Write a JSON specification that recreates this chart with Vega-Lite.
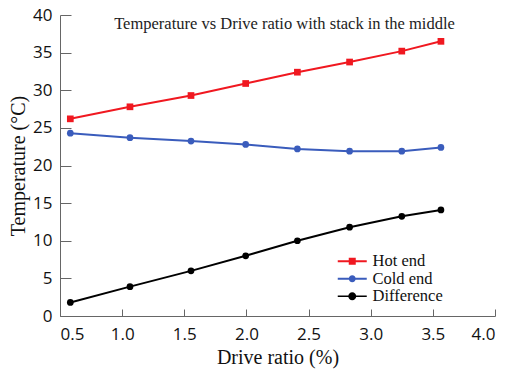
{
  "$schema": "https://vega.github.io/schema/vega-lite/v6.json",
  "autosize": "none",
  "width": 435,
  "height": 301,
  "padding": {"left": 60, "top": 15, "right": 13, "bottom": 56},
  "background": "white",
  "title": {
    "text": "Temperature vs Drive ratio with stack in the middle",
    "font": "Liberation Serif",
    "fontSize": 16.5,
    "fontWeight": "normal",
    "color": "#222",
    "anchor": "middle",
    "frame": "group",
    "baseline": "alphabetic",
    "offset": 0,
    "dy": 39,
    "dx": 7
  },
  "config": {
    "view": {"stroke": null},
    "axis": {
      "grid": false,
      "domainColor": "#666",
      "tickColor": "#666",
      "labelFont": "Open Sans",
      "labelFontSize": 17,
      "labelColor": "#111",
      "titleFont": "Liberation Serif",
      "titleFontSize": 20,
      "titleFontWeight": "normal",
      "titleColor": "#111"
    }
  },
  "data": {
    "values": [
      {"x": 0.583, "series": "Hot end", "t": 26.2},
      {"x": 1.063, "series": "Hot end", "t": 27.8},
      {"x": 1.554, "series": "Hot end", "t": 29.3},
      {"x": 1.994, "series": "Hot end", "t": 30.9},
      {"x": 2.41, "series": "Hot end", "t": 32.4},
      {"x": 2.83, "series": "Hot end", "t": 33.75},
      {"x": 3.25, "series": "Hot end", "t": 35.2},
      {"x": 3.565, "series": "Hot end", "t": 36.5},
      {"x": 0.583, "series": "Cold end", "t": 24.3},
      {"x": 1.063, "series": "Cold end", "t": 23.7},
      {"x": 1.554, "series": "Cold end", "t": 23.25},
      {"x": 1.994, "series": "Cold end", "t": 22.8},
      {"x": 2.41, "series": "Cold end", "t": 22.2},
      {"x": 2.83, "series": "Cold end", "t": 21.9},
      {"x": 3.25, "series": "Cold end", "t": 21.9},
      {"x": 3.565, "series": "Cold end", "t": 22.4},
      {"x": 0.583, "series": "Difference", "t": 1.8},
      {"x": 1.063, "series": "Difference", "t": 3.9},
      {"x": 1.554, "series": "Difference", "t": 6.0},
      {"x": 1.994, "series": "Difference", "t": 8.0},
      {"x": 2.41, "series": "Difference", "t": 10.0},
      {"x": 2.83, "series": "Difference", "t": 11.8},
      {"x": 3.25, "series": "Difference", "t": 13.25},
      {"x": 3.565, "series": "Difference", "t": 14.1}
    ]
  },
  "encoding": {
    "x": {
      "field": "x", "type": "quantitative",
      "scale": {"domain": [0.5, 4.0], "nice": false, "zero": false},
      "axis": {
        "title": "Drive ratio (%)",
        "values": [0.5, 1.0, 1.5, 2.0, 2.5, 3.0, 3.5, 4.0],
        "format": ".1f",
        "tickSize": -7,
        "labelPadding": 17,
        "titlePadding": 5
      }
    },
    "y": {
      "field": "t", "type": "quantitative",
      "scale": {"domain": [0, 40], "nice": false},
      "axis": {
        "title": "Temperature (°C)",
        "values": [0, 5, 10, 15, 20, 25, 30, 35, 40],
        "tickSize": -11,
        "labelPadding": 19,
        "titlePadding": 4
      }
    }
  },
  "resolve": {
    "scale": {"shape": "independent", "size": "independent"},
    "legend": {"color": "independent", "shape": "independent"}
  },
  "layer": [
    {
      "mark": {"type": "line"},
      "encoding": {
        "color": {
          "field": "series", "type": "nominal",
          "scale": {"domain": ["Hot end", "Cold end", "Difference"], "range": ["#f01820", "#3a5cbc", "#000000"]},
          "legend": null
        },
        "strokeWidth": {
          "field": "series", "type": "nominal",
          "scale": {"domain": ["Hot end", "Cold end", "Difference"], "range": [2, 2, 1.2]},
          "legend": null
        }
      }
    },
    {
      "mark": {"type": "point", "filled": true, "opacity": 1},
      "encoding": {
        "color": {
          "field": "series", "type": "nominal",
          "scale": {"domain": ["Hot end", "Cold end", "Difference"], "range": ["#f01820", "#3a5cbc", "#000000"]},
          "legend": null
        },
        "shape": {
          "field": "series", "type": "nominal",
          "scale": {"domain": ["Hot end", "Cold end", "Difference"], "range": ["square", "circle", "circle"]},
          "legend": null
        },
        "size": {
          "field": "series", "type": "nominal",
          "scale": {"domain": ["Hot end", "Cold end", "Difference"], "range": [45, 45, 65]},
          "legend": null
        }
      }
    },
    {
      "mark": {"type": "point", "filled": true, "opacity": 0, "size": 100},
      "encoding": {
        "color": {
          "field": "series", "type": "nominal",
          "scale": {"domain": ["Hot end", "Cold end", "Difference"], "range": ["#f01820", "#3a5cbc", "#000000"]},
          "legend": {
            "title": null,
            "orient": "none",
            "legendX": 284,
            "legendY": 238,
            "labelFont": "Liberation Serif",
            "labelFontSize": 16.5,
            "labelColor": "#111",
            "labelOffset": 12,
            "rowPadding": 0.5,
            "symbolSize": 100,
            "symbolOpacity": 1,
            "encode": {"symbols": {"update": {"opacity": {"value": 1}}}}
          }
        },
        "shape": {
          "field": "series", "type": "nominal",
          "scale": {"domain": ["Hot end", "Cold end", "Difference"], "range": [
            "M-2.9,-0.2H2.9V0.2H-2.9Z M-0.7,-0.7H0.7V0.7H-0.7Z",
            "M-2.9,-0.2H2.9V0.2H-2.9Z M0.7,0A0.7,0.7 0 1,1 -0.7,0A0.7,0.7 0 1,1 0.7,0Z",
            "M-2.9,-0.13H2.9V0.13H-2.9Z M0.8,0A0.8,0.8 0 1,1 -0.8,0A0.8,0.8 0 1,1 0.8,0Z"
          ]},
          "legend": {
            "title": null,
            "orient": "none",
            "legendX": 284,
            "legendY": 238,
            "labelFont": "Liberation Serif",
            "labelFontSize": 16.5,
            "labelColor": "#111",
            "labelOffset": 12,
            "rowPadding": 0.5,
            "symbolSize": 100,
            "symbolOpacity": 1,
            "encode": {"symbols": {"update": {"opacity": {"value": 1}}}}
          }
        }
      }
    }
  ]
}
